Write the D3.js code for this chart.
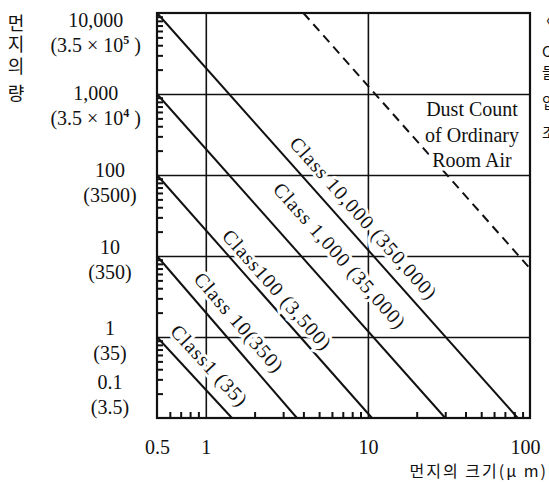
<!DOCTYPE html>
<html>
<head>
<meta charset="utf-8">
<script src="https://cdn.jsdelivr.net/npm/d3@7"></script>
<style>
	body { margin: 0; background: #fff; }
	svg { display: block; }
	.serif { font-family: 'Liberation Serif', 'Times New Roman', serif; }
	.kr { font-family: 'Noto Sans CJK KR', sans-serif; }
</style>
</head>
<body>
<div id="chart"></div>
<script>
// dust classes: count at 0.5 um, size where the line leaves at 0.1
const classNames = ['Class1 (35)', 'Class 10(350)', 'Class100 (3,500)', 'Class 1,000 (35,000)', 'Class 10,000 (350,000)'];
const classStart = [1, 10, 100, 1000, 10000];
const classEndSize = [1.45, 3.65, 10.6, 30, 84];
// where each label sits (centre, in data units)
const classLabelSize = [1.05, 1.6, 2.75, 6.7, 9.4];
const classLabelCount = [0.44, 1.5, 3.8, 10, 29];

// ordinary room air (dashed)
const roomAirSize = [4, 100];
const roomAirCount = [10000, 7];
const roomAirLabel = ['Dust Count', 'of Ordinary', 'Room Air'];

// axes
const xTicks = [0.5, 1, 10, 100];
const xTickLabels = ['0.5', '1', '10', '100'];
const xGrid = [1, 10];
const yTicks = [10000, 1000, 100, 10, 1, 0.1];
const yTickLabels = ['10,000', '1,000', '100', '10', '1', '0.1'];
const yTickMetric = [['3.5 × 10', '5'], ['3.5 × 10', '4'], ['3500'], ['350'], ['35'], ['3.5']];
const yGrid = [1000, 100, 10, 1];

const width = 549;
const height = 482;
const margin = { top: 13, right: 19, bottom: 64, left: 157 };
// baseline shift of each y label pair relative to its tick
const yLabelShift = [14, 6, 2, -2, -2, -29];

const svg = d3.select('#chart')
	.append('svg')
	.attr('width', width)
	.attr('height', height);

const x = d3.scaleLog()
	.domain([0.5, 100])
	.range([margin.left, width - margin.right]);

const y = d3.scaleLog()
	.domain([0.1, 10000])
	.range([height - margin.bottom, margin.top]);

const bottom = height - margin.bottom;

// gridlines
svg.append('g')
	.attr('transform', `translate(0,${bottom})`)
	.call(d3.axisBottom(x).tickValues(xGrid).tickSize(-(bottom - margin.top)).tickFormat(''))
	.call(g => g.select('.domain').remove())
	.selectAll('line').attr('stroke', '#111').attr('stroke-width', 1.6);

svg.append('g')
	.attr('transform', `translate(${margin.left},0)`)
	.call(d3.axisLeft(y).tickValues(yGrid).tickSize(-(width - margin.right - margin.left)).tickFormat(''))
	.call(g => g.select('.domain').remove())
	.selectAll('line').attr('stroke', '#111').attr('stroke-width', 1.6);

// minor ticks, pointing inwards
const minorY = y.ticks().filter(v => Math.abs(Math.log10(v) % 1) > 0.01);
svg.append('g')
	.attr('transform', `translate(${margin.left},0)`)
	.call(d3.axisRight(y).tickValues(minorY).tickSize(6).tickFormat(''))
	.call(g => g.select('.domain').remove())
	.selectAll('line').attr('stroke', '#111').attr('stroke-width', 2);

const minorX = x.ticks().filter(v => Math.abs(Math.log10(v) % 1) > 0.01 && v > 0.5);
svg.append('g')
	.attr('transform', `translate(0,${bottom})`)
	.call(d3.axisTop(x).tickValues(minorX).tickSize(6).tickFormat(''))
	.call(g => g.select('.domain').remove())
	.selectAll('line').attr('stroke', '#111').attr('stroke-width', 2);

// class lines
const line = d3.line().x(d => x(d[0])).y(d => y(d[1]));

classNames.forEach((name, i) => {
	const pts = [[0.5, classStart[i]], [classEndSize[i], 0.1]];
	svg.append('path')
		.attr('class', 'class-line')
		.attr('d', line(pts))
		.attr('fill', 'none')
		.attr('stroke', '#111')
		.attr('stroke-width', 2);
});

// room air, dashed
svg.append('path')
	.attr('d', line(roomAirSize.map((s, i) => [s, roomAirCount[i]])))
	.attr('fill', 'none')
	.attr('stroke', '#111')
	.attr('stroke-width', 2)
	.attr('stroke-dasharray', '9,6');

// frame
svg.append('rect')
	.attr('x', margin.left)
	.attr('y', margin.top)
	.attr('width', width - margin.right - margin.left)
	.attr('height', bottom - margin.top)
	.attr('fill', 'none')
	.attr('stroke', '#111')
	.attr('stroke-width', 2.2);

// class labels parallel to the lines, white halo hides the grid behind
classNames.forEach((name, i) => {
	const angle = Math.atan2(y(0.1) - y(classStart[i]), x(classEndSize[i]) - x(0.5)) * 180 / Math.PI;
	svg.append('text')
		.attr('class', 'serif')
		.attr('transform', `translate(${x(classLabelSize[i])},${y(classLabelCount[i])}) rotate(${angle})`)
		.attr('dy', '0.33em')
		.attr('text-anchor', 'middle')
		.attr('font-size', 20)
		.attr('letter-spacing', 1.1)
		.attr('fill', '#111')
		.attr('stroke', '#fff')
		.attr('stroke-width', 6)
		.attr('paint-order', 'stroke')
		.text(name);
});

// room air label
svg.append('text')
	.attr('class', 'serif')
	.attr('text-anchor', 'middle')
	.attr('font-size', 20)
	.attr('fill', '#111')
	.attr('stroke', '#fff')
	.attr('stroke-width', 7)
	.attr('paint-order', 'stroke')
	.selectAll('tspan')
	.data(roomAirLabel)
	.join('tspan')
		.attr('x', 472)
		.attr('y', (d, i) => 116 + i * 25.5)
		.text(d => d);

// x tick labels
svg.append('g')
	.attr('transform', `translate(0,${bottom})`)
	.call(d3.axisBottom(x).tickValues(xTicks).tickSize(0).tickPadding(22)
		.tickFormat((d, i) => xTickLabels[i]))
	.call(g => g.select('.domain').remove())
	.selectAll('text')
		.attr('font-size', 20)
		.attr('font-family', 'Liberation Serif, serif')
		.attr('fill', '#111')
		.attr('dx', d => d === 100 ? -5 : 0);

// y tick labels: count per ft3 with count per m3 below
yTicks.forEach((v, i) => {
	const g = svg.append('g')
		.attr('class', 'serif')
		.attr('font-size', 20)
		.attr('fill', '#111')
		.attr('text-anchor', 'middle');
	const base = y(v) + yLabelShift[i];
	g.append('text')
		.attr('x', 110)
		.attr('y', base)
		.text(yTickLabels[i]);
	const m = g.append('text')
		.attr('x', 110)
		.attr('y', base + 25)
		.text('(' + yTickMetric[i][0]);
	if (yTickMetric[i][1]) {
		m.append('tspan').attr('font-size', 12).attr('font-weight', 'bold').attr('dy', -8).text(yTickMetric[i][1]);
		m.append('tspan').attr('dy', 8).text(' )');
	} else {
		m.append('tspan').text(')');
	}
	// keep the wide labels clear of the axis
	const box = g.node().getBBox();
	if (box.x + box.width > 141) {
		g.attr('transform', `translate(${141 - box.x - box.width},0)`);
	}
});

// axis titles
const yTitle = svg.append('text')
	.attr('class', 'kr')
	.attr('font-size', 18)
	.attr('fill', '#111')
	.attr('writing-mode', 'vertical-rl')
	.attr('letter-spacing', 3.5)
	.attr('x', 16)
	.attr('y', 14)
	.text('먼지의');
yTitle.append('tspan')
	.attr('x', 16)
	.attr('y', 84)
	.text('량');

svg.append('text')
	.attr('class', 'kr')
	.attr('font-size', 16)
	.attr('fill', '#111')
	.attr('text-anchor', 'end')
	.attr('x', 548)
	.attr('y', 477)
	.attr('letter-spacing', 2)
	.text('먼지의 크기(μ m)');

// edge of the next column of the page
svg.append('text')
	.attr('class', 'kr')
	.attr('font-size', 15)
	.attr('fill', '#111')
	.selectAll('tspan')
	.data(['〈', 'C', '들', '입', '조'])
	.join('tspan')
		.attr('x', (d, i) => i === 0 ? 538 : 542)
		.attr('y', (d, i) => [27, 57, 78, 108, 138][i])
		.text(d => d);
</script>
</body>
</html>
